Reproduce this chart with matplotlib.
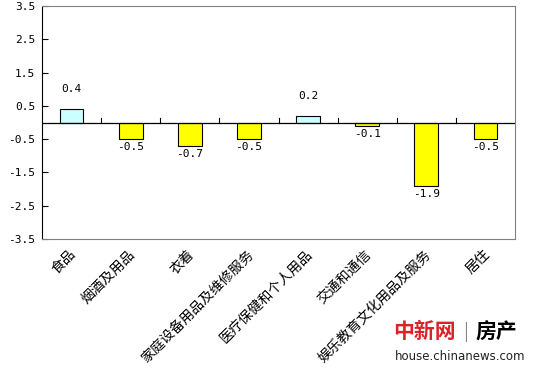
import matplotlib
matplotlib.use("Agg")
import matplotlib.pyplot as plt
import numpy as np

plt.rcParams['font.family'] = ['Noto Sans CJK SC', 'DejaVu Sans']

categories = ['食品', '烟酒及用品', '衣着', '家庭设备用品及维修服务',
              '医疗保健和个人用品', '交通和通信', '娱乐教育文化用品及服务', '居住']
values = [0.4, -0.5, -0.7, -0.5, 0.2, -0.1, -1.9, -0.5]
yticks = [-3.5, -2.5, -1.5, -0.5, 0.5, 1.5, 2.5, 3.5]

fig = plt.figure(figsize=(5.33, 3.70), dpi=100)
ax = fig.add_axes([42/533, 1 - 239/370, (515-42)/533, (239-6)/370])

x = np.arange(len(values))
colors = ['#ccffff' if v > 0 else '#ffff00' for v in values]
ax.bar(x, values, width=0.4, color=colors, edgecolor='black', linewidth=0.8, zorder=3)

num_font = dict(family='DejaVu Sans Mono', fontsize=8)
for xi, v in zip(x, values):
    if v > 0:
        ax.text(xi, v + 0.45, f'{v:.1f}', ha='center', va='bottom', **num_font)
    else:
        ax.text(xi, v - 0.1, f'{v:.1f}', ha='center', va='top', **num_font)

ax.set_xlim(-0.5, len(values) - 0.5)
ax.set_ylim(-3.5, 3.5)
ax.set_yticks(yticks)
ax.set_yticklabels([f'{t:.1f}' for t in yticks], **num_font)
ax.tick_params(axis='y', direction='in', length=4, width=0.8, pad=5)

# zero line with tick marks between categories
ax.axhline(0, color='black', linewidth=0.9, zorder=4)
for b in np.arange(0.5, len(values) - 0.5, 1):
    ax.plot([b, b], [0, 0.15], color='black', linewidth=0.8, zorder=4)
ax.set_xticks([])

for xi, c in zip(x, categories):
    ax.text(xi - 0.05, -3.75, c, rotation=45, ha='right', va='top',
            rotation_mode='anchor', fontsize=10)

ax.spines['left'].set_color('black')
for s in ['top', 'right', 'bottom']:
    ax.spines[s].set_color('#808080')

# watermark
fig.text(393/533, 1 - 332/370, '中新网', color='#d9232a', fontsize=15,
         fontweight='bold', va='center', ha='left')
fig.text(463/533, 1 - 332/370, '|', color='#888888', fontsize=13,
         va='center', ha='left')
fig.text(476/533, 1 - 332/370, '房产', color='black', fontsize=15,
         fontweight='bold', va='center', ha='left')
fig.text(395/533, 1 - 357/370, 'house.chinanews.com', color='#222222',
         fontsize=8.5, va='center', ha='left', family='DejaVu Sans')

plt.savefig('out.png', dpi=100)
plt.close()
